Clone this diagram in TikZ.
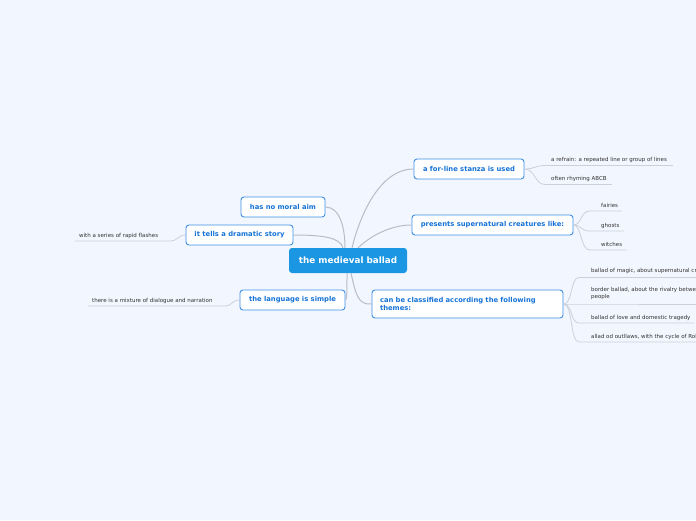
\documentclass[tikz,border=0pt]{standalone}
\usepackage{fontspec}
\setmainfont{DejaVu Sans}
\definecolor{bg}{RGB}{242,246,254}
\definecolor{mainblue}{RGB}{27,150,227}
\definecolor{nodeborder}{RGB}{61,143,230}
\definecolor{nodetext}{RGB}{22,115,215}
\definecolor{conn}{RGB}{184,188,200}
\definecolor{leafline}{RGB}{204,208,218}
\definecolor{leaftext}{RGB}{50,50,50}
\begin{document}
\begin{tikzpicture}[x=1pt,y=-1pt,
  central/.style={fill=mainblue,draw=none,rounded corners=3pt,text=white,font=\fontsize{8.8}{10}\selectfont\bfseries,minimum width=118pt,minimum height=25pt,inner sep=0pt},
  branch/.style={fill=white,draw=nodeborder,line width=0.9pt,rounded corners=3pt,text=nodetext,font=\fontsize{6.8}{8.5}\selectfont\bfseries,minimum height=20pt,inner sep=0pt},
  leaf/.style={anchor=base west,inner sep=0pt,text=leaftext,font=\fontsize{5.5}{7}\selectfont},
  conn/.style={draw=conn,line width=1pt},
  lline/.style={draw=leafline,line width=0.8pt}]
\fill[bg] (0,0) rectangle (696,520);
\useasboundingbox (0,0) rectangle (696,520);
\clip (0,0) rectangle (696,520);

% nodes
\node[central] (c) at (348,260.5) {the medieval ballad};
\node[branch,minimum width=110pt] (stanza) at (469,169) {a for-line stanza is used};
\node[branch,minimum width=161pt] (super) at (492.5,225) {presents supernatural creatures like:};
\node[branch,minimum width=191pt,minimum height=28pt,align=left,text width=175pt] (themes) at (467.5,304) {can be classified according the following\\themes:};
\node[branch,minimum width=84pt] (moral) at (283,207) {has no moral aim};
\node[branch,minimum width=107pt] (drama) at (239.5,235) {it tells a dramatic story};
\node[branch,minimum width=105pt] (lang) at (292.5,300) {the language is simple};

% central connectors
\draw[conn] (moral.east) .. controls (340,207) and (345,228) .. ([xshift=-3pt]c.north);
\draw[conn] (drama.east) .. controls (325,235) and (340,238) .. ([xshift=-5pt]c.north);
\draw[conn] ([xshift=4pt]c.north) .. controls (360,215) and (380,169) .. (stanza.west);
\draw[conn] ([xshift=10pt]c.north) .. controls (375,232) and (395,225) .. (super.west);
\draw[conn] ([xshift=-1pt]c.south) .. controls (347,290) and (347,300) .. (lang.east);
\draw[conn] ([xshift=3pt]c.south) .. controls (356,295) and (358,305) .. (themes.west);

% stanza leaves
\coordinate (s1a) at (545,165.5); \coordinate (s1b) at (673,165.5);
\coordinate (s2a) at (545,184.5); \coordinate (s2b) at (612,184.5);
\node[leaf] (s1) at (551,161) {a refrain: a repeated line or group of lines};
\node[leaf] (s2) at (551,180) {often rhyming ABCB};
\draw[lline] (stanza.east) .. controls (535,169) and (535,165.5) .. (s1a) -- (s1b);
\draw[lline] (stanza.east) .. controls (535,169) and (535,184.5) .. (s2a) -- (s2b);

% supernatural leaves
\coordinate (p1a) at (590,211); \coordinate (p1b) at (622,211);
\coordinate (p2a) at (590,231); \coordinate (p2b) at (624,231);
\coordinate (p3a) at (590,250); \coordinate (p3b) at (627,250);
\node[leaf] (p1) at (601,207) {fairies};
\node[leaf] (p2) at (601,227) {ghosts};
\node[leaf] (p3) at (601,246) {witches};
\draw[lline] (super.east) .. controls (582,225) and (580,211) .. (p1a) -- (p1b);
\draw[lline] (super.east) .. controls (582,225) and (580,231) .. (p2a) -- (p2b);
\draw[lline] (super.east) .. controls (582,225) and (580,250) .. (p3a) -- (p3b);

% themes leaves
\coordinate (t1a) at (579,277.5); \coordinate (t1b) at (700,277.5);
\coordinate (t2a) at (579,304); \coordinate (t2b) at (700,304);
\coordinate (t3a) at (579,323); \coordinate (t3b) at (694,323);
\coordinate (t4a) at (579,342); \coordinate (t4b) at (700,342);
\node[leaf] (t1) at (591,272) {ballad of magic, about supernatural creatures};
\node[leaf,anchor=north west,align=left] (t2) at (591,287.5) {border ballad, about the rivalry between\\people};
\node[leaf] (t3) at (591,319) {ballad of love and domestic tragedy};
\node[leaf] (t4) at (591,338) {allad od outllaws, with the cycle of Robin Hood};
\draw[lline] (themes.east) .. controls (573,304) and (570,277.5) .. (t1a) -- (t1b);
\draw[lline] (themes.east) -- (t2a) -- (t2b);
\draw[lline] (themes.east) .. controls (573,304) and (570,323) .. (t3a) -- (t3b);
\draw[lline] (themes.east) .. controls (573,304) and (570,342) .. (t4a) -- (t4b);

% left leaves
\coordinate (d1a) at (170,241); \coordinate (d1b) at (75,241);
\node[leaf] (d1) at (79,237) {with a series of rapid flashes};
\draw[lline] (drama.west) .. controls (178,235) and (178,241) .. (d1a) -- (d1b);
\coordinate (l1a) at (225,306); \coordinate (l1b) at (88,306);
\node[leaf] (l1) at (92,302) {there is a mixture of dialogue and narration};
\draw[lline] (lang.west) .. controls (232,300) and (232,306) .. (l1a) -- (l1b);
\end{tikzpicture}
\end{document}
